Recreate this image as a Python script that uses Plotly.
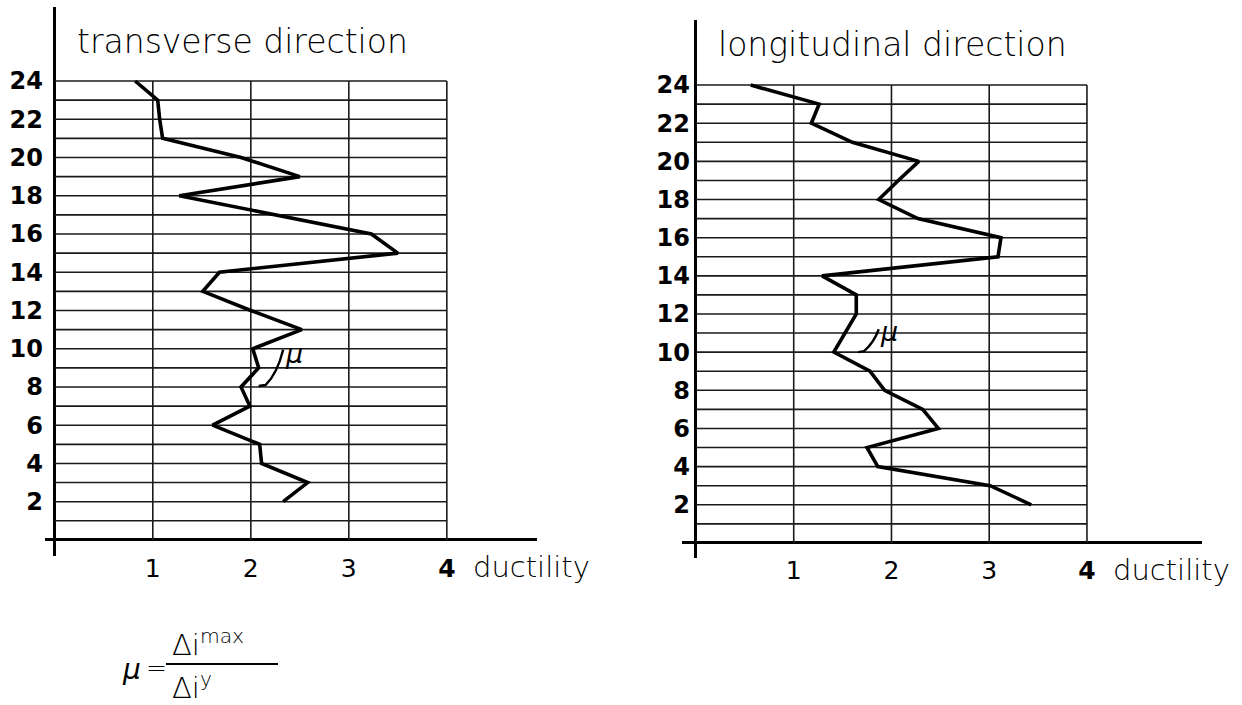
import plotly.graph_objects as go

# Storey levels and ductility demand per storey
storeys = list(range(2, 25))
transverse = [2.33, 2.58, 2.11, 2.09, 1.61, 1.99, 1.90, 2.08, 2.02, 2.52, 2.00, 1.51,
              1.68, 3.50, 3.23, 2.25, 1.27, 2.50, 1.90, 1.10, 1.07, 1.05, 0.82]
longitudinal = [3.43, 3.01, 1.86, 1.75, 2.48, 2.32, 1.93, 1.78, 1.41, 1.53, 1.64, 1.64,
                1.29, 3.09, 3.12, 2.27, 1.87, 2.07, 2.28, 1.60, 1.18, 1.26, 0.56]

grid_levels = list(range(1, 25))
ductility_ticks = [1, 2, 3, 4]
ductility_ticktext = ["1", "2", "3", "<b>4</b>"]
storey_ticks = list(range(2, 25, 2))
panel_titles = ["transverse direction", "longitudinal direction"]
axis_title = "ductility"

W, H = 1242, 705
FONT = "DejaVu Sans"

fig = go.Figure()


def px(xp, yp):
    """Pixel position on the page -> paper coordinates."""
    return xp / W, 1 - yp / H


def grid_trace(xa, ya):
    xs, ys = [], []
    top = grid_levels[-1]
    for g in ductility_ticks:
        xs += [g, g, None]
        ys += [0, top, None]
    for lv in grid_levels:
        xs += [0, ductility_ticks[-1], None]
        ys += [lv, lv, None]
    return go.Scatter(x=xs, y=ys, mode="lines", xaxis=xa, yaxis=ya,
                      line=dict(color="#1a1a1a", width=1.6),
                      hoverinfo="skip", showlegend=False)


panels = [
    # (x axis, y axis, values, x domain px, y domain px, x range, y range, title px, label px)
    ("x", "y", transverse, (45, 537), (7, 556), [-0.10, 4.92], [-0.84, 27.87],
     (75, 42), (471, 567)),
    ("x2", "y2", longitudinal, (682, 1202), (20, 558), [-0.143, 5.177], [-0.79, 27.41],
     (716, 45), (1111, 570)),
]

for i, (xa, ya, vals, xd, yd, xr, yr, tpos, lpos) in enumerate(panels):
    fig.add_trace(grid_trace(xa, ya))
    fig.add_trace(go.Scatter(x=vals, y=storeys, mode="lines", xaxis=xa, yaxis=ya,
                             line=dict(color="black", width=3.6),
                             showlegend=False))
    suffix = "" if i == 0 else "2"
    fig.update_layout(**{
        "xaxis" + suffix: dict(
            domain=[xd[0] / W, xd[1] / W], range=xr, anchor=ya,
            showgrid=False, showline=False, zeroline=True,
            zerolinecolor="black", zerolinewidth=3,
            tickvals=ductility_ticks, ticktext=ductility_ticktext, ticks="",
            tickfont=dict(family=FONT, size=25, color="black"),
            ticklabelstandoff=-5, fixedrange=True),
        "yaxis" + suffix: dict(
            domain=[1 - yd[1] / H, 1 - yd[0] / H], range=yr, anchor=xa,
            showgrid=False, showline=False, zeroline=True,
            zerolinecolor="black", zerolinewidth=3,
            tickvals=storey_ticks, ticks="",
            tickfont=dict(family=FONT, size=24, color="black", weight="bold"),
            ticklabelstandoff=(1 if i == 0 else -9), fixedrange=True),
    })
    tx, ty = px(*tpos)
    fig.add_annotation(x=tx, y=ty, xref="paper", yref="paper", text=panel_titles[i],
                       showarrow=False, xanchor="left", yanchor="middle",
                       font=dict(family=FONT, size=33, color="black", weight=300))
    lx, ly = px(*lpos)
    fig.add_annotation(x=lx, y=ly, xref="paper", yref="paper", text=axis_title,
                       showarrow=False, xanchor="left", yanchor="middle",
                       font=dict(family=FONT, size=29, color="black", weight=300))

# mu leaders pointing at the ductility curves
fig.add_shape(type="path", xref="x", yref="y",
              path="M 2.08,8.05 L 2.15,8.1 Q 2.27,8.7 2.33,9.95",
              line=dict(color="black", width=2.4))
fig.add_annotation(x=2.44, y=9.75, xref="x", yref="y", text="<i>μ</i>",
                   showarrow=False, font=dict(family=FONT, size=27, color="black"))
fig.add_shape(type="path", xref="x2", yref="y2",
              path="M 1.66,10.0 L 1.72,10.05 Q 1.82,10.5 1.87,11.2",
              line=dict(color="black", width=2.4))
fig.add_annotation(x=1.97, y=11.1, xref="x2", yref="y2", text="<i>μ</i>",
                   showarrow=False, font=dict(family=FONT, size=27, color="black"))

# definition of the ductility factor
thin = dict(family=FONT, size=29, color="black", weight=300)
for txt, (xp, yp), anchor, size in [
    ("<i>μ</i>", (131, 669), "center", 28),
    ("=", (156, 667), "center", 25),
    ("Δi<sup>max</sup>", (170, 643), "left", 29),
    ("Δi<sup>y</sup>", (170, 686), "left", 29),
]:
    xx, yy = px(xp, yp)
    fig.add_annotation(x=xx, y=yy, xref="paper", yref="paper", text=txt,
                       showarrow=False, xanchor=anchor, yanchor="middle",
                       font=dict(thin, size=size))
fx0, fy = px(166, 664)
fx1, _ = px(278, 664)
fig.add_shape(type="line", xref="paper", yref="paper", x0=fx0, x1=fx1, y0=fy, y1=fy,
              line=dict(color="black", width=1.8))

fig.update_layout(width=W, height=H, margin=dict(l=0, r=0, t=0, b=0),
                  paper_bgcolor="white", plot_bgcolor="white",
                  font=dict(family=FONT, color="black"))

fig.write_html("out.html", config={"displayModeBar": False})
